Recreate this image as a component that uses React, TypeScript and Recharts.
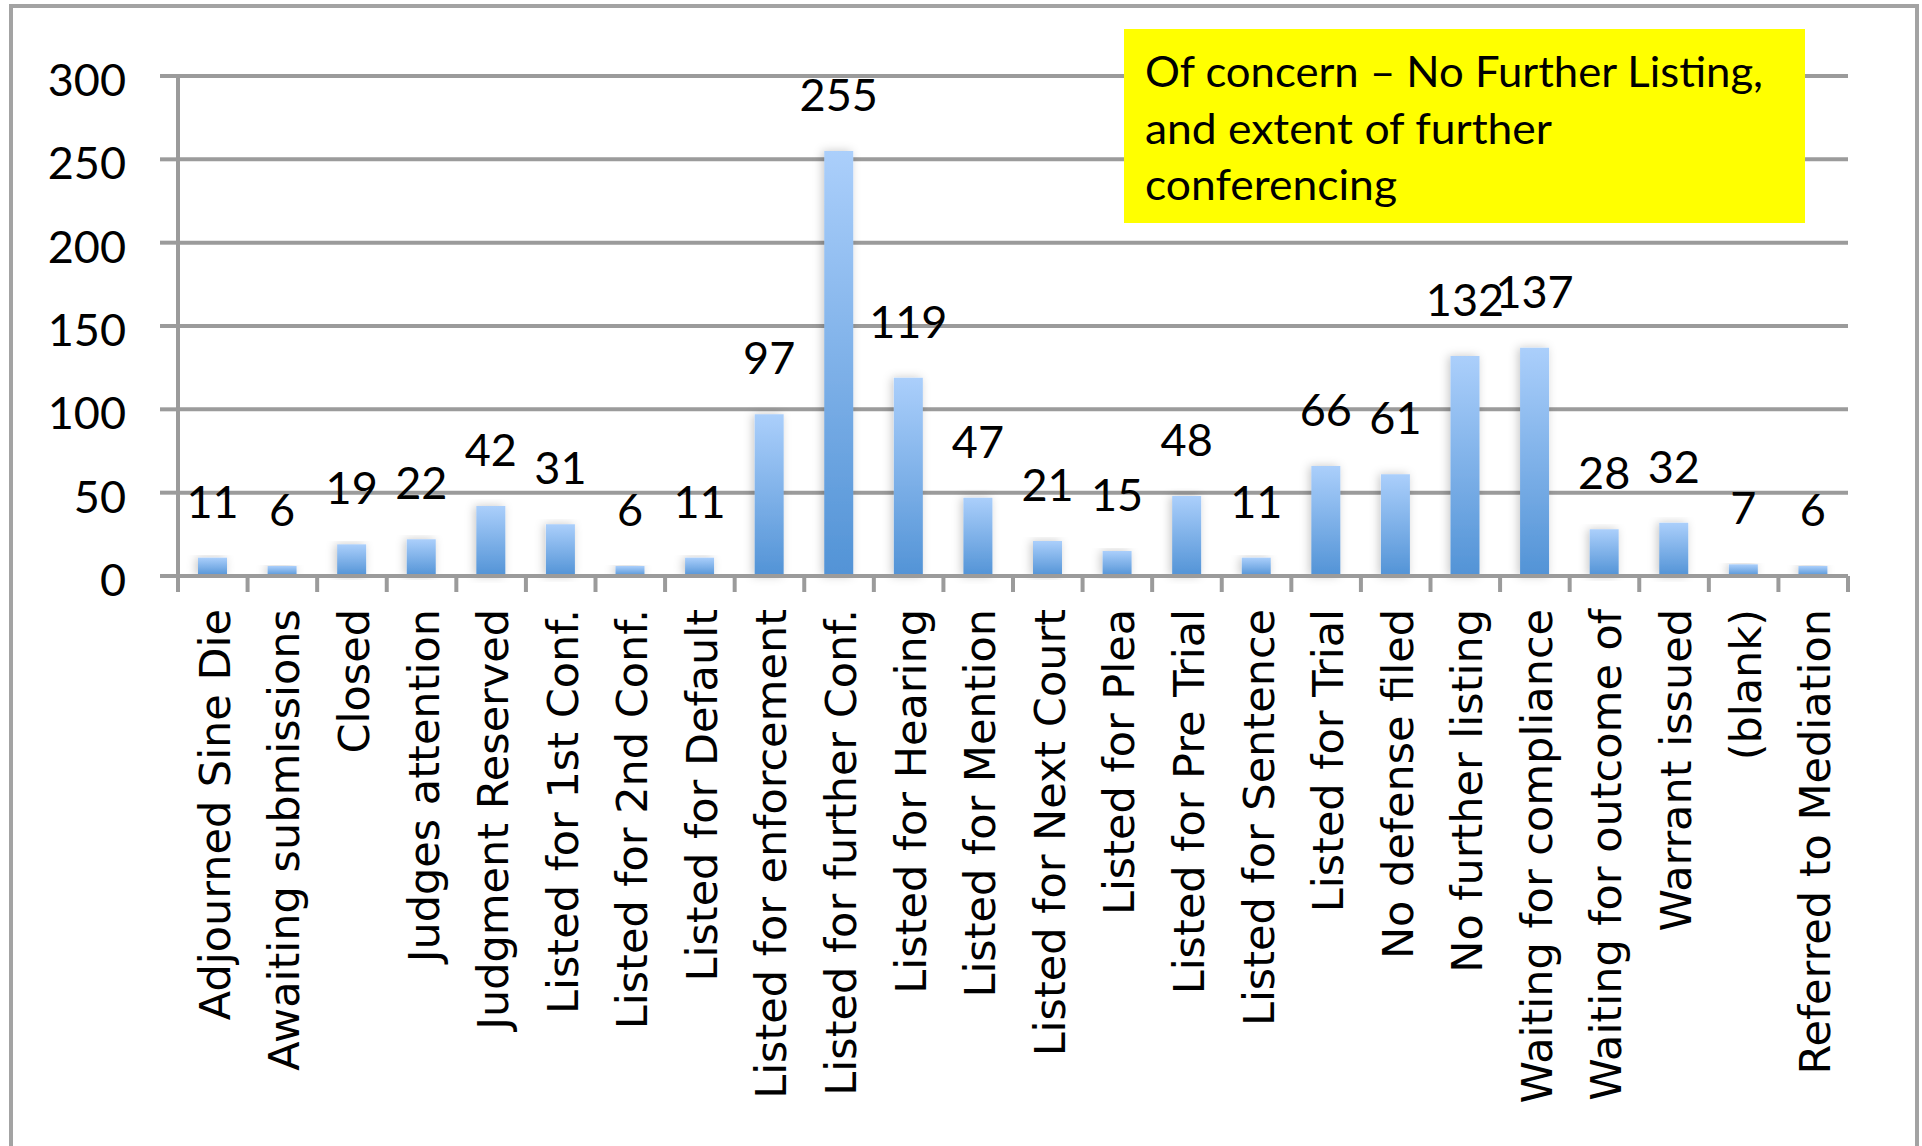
import React from 'react';
import { BarChart, Bar, XAxis, YAxis, CartesianGrid, LabelList } from 'recharts';

const categories = [
  'Adjourned Sine Die',
  'Awaiting submissions',
  'Closed',
  'Judges attention',
  'Judgment Reserved',
  'Listed for 1st Conf.',
  'Listed for 2nd Conf.',
  'Listed for Default',
  'Listed for enforcement',
  'Listed for further Conf.',
  'Listed for Hearing',
  'Listed for Mention',
  'Listed for Next Court',
  'Listed for Plea',
  'Listed for Pre Trial',
  'Listed for Sentence',
  'Listed for Trial',
  'No defense filed',
  'No further listing',
  'Waiting for compliance',
  'Waiting for outcome of',
  'Warrant issued',
  '(blank)',
  'Referred to Mediation',
];

const counts = [11, 6, 19, 22, 42, 31, 6, 11, 97, 255, 119, 47, 21, 15, 48, 11, 66, 61, 132, 137, 28, 32, 7, 6];

const yTicks = [0, 50, 100, 150, 200, 250, 300];

const noteLines = ['Of concern \u2013 No Further Listing,', 'and extent of further', 'conferencing'];
const noteLineWidths = [618, 407, 252];

const data = categories.map((name, i) => ({ name, value: counts[i] }));

const W = 1922;
const H = 1146;
const MARGIN = { top: 76, right: 74, left: 0, bottom: 0 };
const Y_AXIS_W = 178;
const X_AXIS_H = 570;
const BAND = (W - MARGIN.right - Y_AXIS_W) / categories.length;
const GRID = '#9b9b9b';
const NUM_FONT = "Lato, 'Open Sans', sans-serif";
const CAT_FONT = "'DejaVu Sans', Verdana, sans-serif";

function CategoryTick(props: any) {
  const { x, y, payload, index } = props;
  const edges = [x - BAND / 2];
  if (index === categories.length - 1) edges.push(x + BAND / 2);
  return (
    <g>
      {edges.map((ex, k) => (
        <line key={k} x1={ex} x2={ex} y1={y} y2={y + 16} stroke={GRID} strokeWidth={4} />
      ))}
      <text
        transform={`translate(${x + 17}, ${y + 33}) rotate(-90)`}
        textAnchor="end"
        fontFamily={CAT_FONT}
        fontSize={43}
        fill="#000"
      >
        {payload.value}
      </text>
    </g>
  );
}

function ValueTick(props: any) {
  const { x, y, payload } = props;
  return (
    <text x={x} y={y + 20} textAnchor="end" fontFamily={NUM_FONT} fontSize={45} fill="#000">
      {payload.value}
    </text>
  );
}

export default function App() {
  return (
    <div
      style={{
        position: 'absolute',
        left: 0,
        top: 0,
        width: W,
        height: H,
        overflow: 'hidden',
        background: '#fff',
      }}
    >
      <svg width={0} height={0} style={{ position: 'absolute' }}>
        <defs>
          <linearGradient id="barGrad" x1="0" y1="0" x2="0" y2="1">
            <stop offset="0%" stopColor="#abcffb" />
            <stop offset="100%" stopColor="#5293d6" />
          </linearGradient>
          <filter id="barShadow" x="-60%" y="-10%" width="220%" height="120%">
            <feDropShadow dx={-2} dy={0} stdDeviation={5} floodColor="#000" floodOpacity={0.22} />
          </filter>
        </defs>
      </svg>
      <div
        style={{
          position: 'absolute',
          left: 9,
          top: 4,
          width: 1910,
          height: 1200,
          border: '4px solid #a3a3a3',
          boxSizing: 'border-box',
        }}
      />
      <div style={{ position: 'absolute', left: 0, top: 0 }}>
        <BarChart width={W} height={H} data={data} margin={MARGIN}>
          <CartesianGrid vertical={false} stroke={GRID} strokeWidth={4} />
          <XAxis
            dataKey="name"
            type="category"
            interval={0}
            height={X_AXIS_H}
            tickSize={0}
            tickMargin={0}
            tickLine={false}
            axisLine={{ stroke: GRID, strokeWidth: 4 }}
            tick={<CategoryTick />}
          />
          <YAxis
            type="number"
            domain={[0, 300]}
            ticks={yTicks}
            width={Y_AXIS_W}
            tickSize={18}
            tickMargin={34}
            axisLine={{ stroke: GRID, strokeWidth: 4 }}
            tickLine={{ stroke: GRID, strokeWidth: 4 }}
            tick={<ValueTick />}
          />
          <Bar
            dataKey="value"
            barSize={29}
            fill="url(#barGrad)"
            filter="url(#barShadow)"
            isAnimationActive={false}
          >
            <LabelList
              dataKey="value"
              position="top"
              offset={40}
              fill="#000"
              fontSize={45}
              fontFamily={NUM_FONT}
            />
          </Bar>
        </BarChart>
      </div>
      <svg
        width={W}
        height={H}
        style={{ position: 'absolute', left: 0, top: 0, pointerEvents: 'none' }}
      >
        <rect x={1124} y={29} width={681} height={194} fill="#ffff00" />
        {noteLines.map((line, i) => (
          <text
            key={i}
            x={1145}
            y={87 + i * 56.5}
            fontFamily={NUM_FONT}
            fontSize={42}
            fill="#000"
            textLength={noteLineWidths[i]}
            lengthAdjust="spacingAndGlyphs"
          >
            {line}
          </text>
        ))}
      </svg>
    </div>
  );
}
